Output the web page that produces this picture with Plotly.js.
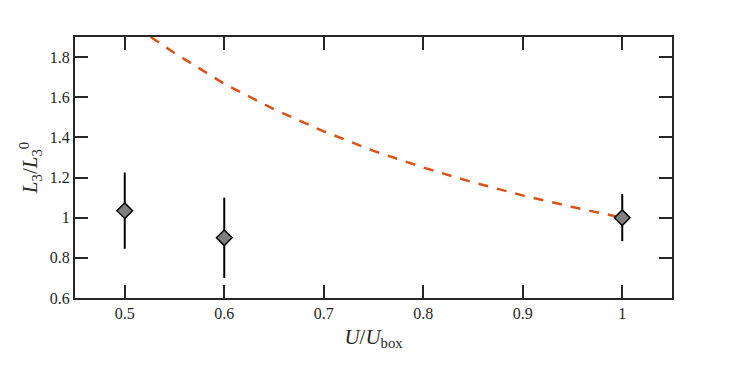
<!DOCTYPE html>
<html>
<head>
<meta charset="utf-8">
<script src="https://cdn.plot.ly/plotly-3.0.1.min.js"></script>
<style>body{margin:0;padding:0;background:#fff}#chart{width:747px;height:373px}</style>
</head>
<body>
<div id="chart"></div>
<script>
const pointX = [0.5, 0.6, 1.0];
const pointY = [1.035, 0.9, 1.0];
const pointErr = [0.19, 0.2, 0.117];
const curveX = [0.526, 0.55, 0.6, 0.65, 0.7, 0.75, 0.8, 0.85, 0.9, 0.95, 1.0];
const curveY = [1.9, 1.82, 1.667, 1.54, 1.43, 1.333, 1.25, 1.176, 1.111, 1.053, 1.0];
const xTicks = [0.5, 0.6, 0.7, 0.8, 0.9, 1];
const xTickText = ['0.5', '0.6', '0.7', '0.8', '0.9', '1'];
const yTicks = [0.6, 0.8, 1, 1.2, 1.4, 1.6, 1.8];
const yTickText = ['0.6', '0.8', '1', '1.2', '1.4', '1.6', '1.8'];

const FAM = 'Liberation Serif';
function f(size) { return {family: FAM, size: size, color: '#262626'}; }
const data = [
  {x: curveX, y: curveY, mode: 'lines', line: {color: '#D95319', width: 2.5, dash: '10px,9px'}, hoverinfo: 'skip'},
  {x: pointX, y: pointY, mode: 'markers',
   error_y: {type: 'data', array: pointErr, visible: true, color: '#000', thickness: 2, width: 0},
   marker: {symbol: 'diamond', size: 12, color: '#7f7f7f', line: {color: '#000', width: 1.5}}}
];
function axis(extra) {
  return Object.assign({showgrid: false, zeroline: false, showline: true, linecolor: '#262626', linewidth: 2,
    mirror: 'allticks', ticks: 'inside', ticklen: 13, tickwidth: 2, tickcolor: '#262626', tickfont: f(16)}, extra);
}
const layout = {
  width: 747, height: 373, showlegend: false,
  paper_bgcolor: '#fff', plot_bgcolor: '#fff',
  margin: {l: 75, r: 75, t: 37, b: 75},
  font: f(16),
  xaxis: axis({range: [0.45, 1.05], tickvals: xTicks, ticktext: xTickText,
    title: {text: '<i>U</i>/<i>U</i><sub>box</sub>', font: f(21), standoff: 8}}),
  yaxis: axis({range: [0.6, 1.9], tickvals: yTicks, ticktext: yTickText,
    title: {text: '<i>L</i><sub>3</sub>/<i>L</i><sub>3</sub><sup>0</sup>', font: f(21), standoff: 6}})
};
Plotly.newPlot('chart', data, layout, {displayModeBar: false, staticPlot: true});
</script>
</body>
</html>
